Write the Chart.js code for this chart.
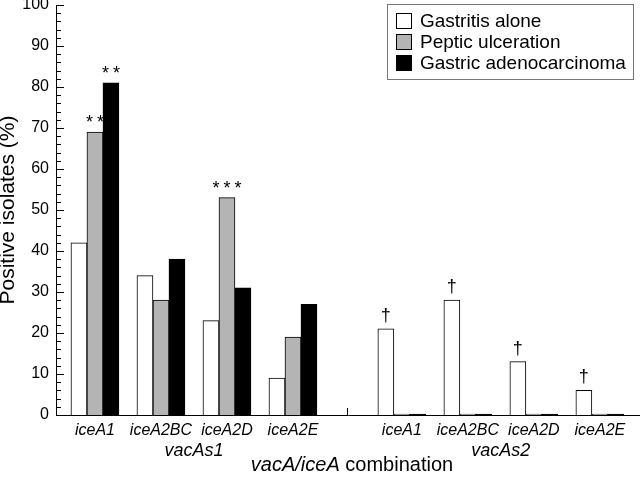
<!DOCTYPE html>
<html lang="en">
<head>
    <meta charset="UTF-8">
    <title>vacA/iceA combination</title>
    <script src="https://cdn.jsdelivr.net/npm/chart.js@4.4.0/dist/chart.umd.min.js"></script>
</head>
<style>
    body { margin: 0; background: #fff; }
    .chart { width: 640px; height: 478px; }
</style>
<body>
    <div class="chart">
        <canvas id="myChart"></canvas>
    </div>
</body>
</html>

<script>
  // data
  const groups = ['vacAs1', 'vacAs2'];
  const genotypes = ['iceA1', 'iceA2BC', 'iceA2D', 'iceA2E'];
  const seriesNames = ['Gastritis alone', 'Peptic ulceration', 'Gastric adenocarcinoma'];
  const gastritisAlone = [42, 34, 23, 9, 21, 28, 13, 6];
  const pepticUlceration = [69, 28, 53, 19, 0, 0, 0, 0];
  const gastricAdenocarcinoma = [81, 38, 31, 27, 0, 0, 0, 0];
  const gastritisMarks = ['', '', '', '', '†', '†', '†', '†'];
  const pepticMarks = ['**', '', '***', '', '', '', '', ''];
  const gastricMarks = ['**', '', '', '', '', '', '', ''];
  const yTickLabels = [0, 10, 20, 30, 40, 50, 60, 70, 80, 90, 100];

  // layout: second group is shifted a bit further than one slot
  const GROUP_SHIFT = 4.65;
  const FONT = '"Liberation Sans", Arial, Helvetica, sans-serif';

  const xPos = [];
  const xLabels = [];
  groups.forEach(function (g, gi) {
    genotypes.forEach(function (t, ti) {
      xPos.push(gi * GROUP_SHIFT + ti);
      xLabels.push(t);
    });
  });

  function points(values) {
    return values.map(function (v, i) { return { x: xPos[i], y: v }; });
  }

  const colors = ['#ffffff', '#b4b4b4', '#000000'];
  const allValues = [gastritisAlone, pepticUlceration, gastricAdenocarcinoma];
  const allMarks = [gastritisMarks, pepticMarks, gastricMarks];

  const extras = {
    id: 'extras',
    afterDatasetsDraw: function (chart) {
      const ctx = chart.ctx;
      const x = chart.scales.x, y = chart.scales.y;
      const area = chart.chartArea;
      ctx.save();
      ctx.strokeStyle = '#000';
      ctx.lineWidth = 1;

      // inside ticks on the y axis
      y.ticks.forEach(function (t) {
        const py = Math.round(y.getPixelForValue(t.value)) + 0.5;
        const len = t.value % 10 === 0 ? 8 : 5;
        ctx.beginPath();
        ctx.moveTo(area.left, py);
        ctx.lineTo(area.left + len, py);
        ctx.stroke();
      });

      // small separator between the two groups
      const sepX = Math.round(x.getPixelForValue((3 + GROUP_SHIFT) / 2)) + 0.5;
      ctx.beginPath();
      ctx.moveTo(sepX, area.bottom);
      ctx.lineTo(sepX, area.bottom - 7);
      ctx.stroke();

      // significance marks
      ctx.fillStyle = '#000';
      ctx.textAlign = 'center';
      ctx.textBaseline = 'alphabetic';
      allMarks.forEach(function (marks, d) {
        const meta = chart.getDatasetMeta(d);
        marks.forEach(function (m, i) {
          if (!m) return;
          const el = meta.data[i];
          ctx.font = '18px ' + FONT;
          if (m.indexOf('†') >= 0) {
            ctx.letterSpacing = '0px';
            ctx.fillText(m, el.x, el.y - 8);
          } else {
            ctx.letterSpacing = '4px';
            ctx.fillText(m, el.x + 2, el.y - 4);
          }
        });
      });
      ctx.letterSpacing = '0px';

      // group labels
      ctx.font = 'italic 18px ' + FONT;
      ctx.textBaseline = 'middle';
      groups.forEach(function (g, gi) {
        const a = x.getPixelForValue(gi * GROUP_SHIFT);
        const b = x.getPixelForValue(gi * GROUP_SHIFT + genotypes.length - 1);
        ctx.fillText(g, (a + b) / 2, 451);
      });

      // axis title, partly italic
      const part1 = 'vacA/iceA';
      const part2 = ' combination';
      ctx.font = 'italic 20px ' + FONT;
      const w1 = ctx.measureText(part1).width;
      ctx.font = '20px ' + FONT;
      const w2 = ctx.measureText(part2).width;
      const tx = 352 - (w1 + w2) / 2;
      ctx.textAlign = 'left';
      ctx.font = 'italic 20px ' + FONT;
      ctx.fillText(part1, tx, 465);
      ctx.font = '20px ' + FONT;
      ctx.fillText(part2, tx + w1, 465);

      // legend box
      ctx.strokeStyle = '#777';
      ctx.strokeRect(387.5, 4.5, 246, 75);
      seriesNames.forEach(function (name, i) {
        const cy = 21 + i * 21;
        ctx.fillStyle = colors[i];
        ctx.fillRect(396.5, cy - 7.5, 15, 15);
        ctx.strokeStyle = '#000';
        ctx.strokeRect(396.5, cy - 7.5, 15, 15);
        ctx.fillStyle = '#000';
        ctx.font = '19px ' + FONT;
        ctx.textBaseline = 'middle';
        ctx.fillText(name, 420, cy + 1);
      });
      ctx.restore();
    }
  };

  const ctx = document.getElementById('myChart').getContext('2d');
  const chart = new Chart(ctx, {
    type: 'bar',
    data: {
      datasets: seriesNames.map(function (name, i) {
        return {
          label: name,
          data: points(allValues[i]),
          backgroundColor: colors[i],
          borderColor: '#000',
          borderWidth: 1,
          barThickness: 16,
          minBarLength: i === 0 ? 0 : 1
        };
      })
    },
    options: {
      responsive: true,
      maintainAspectRatio: false,
      animation: false,
      layout: { padding: { top: 5, right: 0, left: 0, bottom: 0 } },
      plugins: {
        legend: { display: false },
        tooltip: { enabled: false }
      },
      scales: {
        x: {
          type: 'linear',
          offset: false,
          min: -0.59,
          max: 8.258,
          grid: { display: false, drawTicks: false },
          border: { color: '#000', width: 1 },
          afterBuildTicks: function (scale) {
            scale.ticks = xPos.map(function (v) { return { value: v }; });
          },
          afterFit: function (scale) {
            scale.height = 63;
            scale.paddingLeft = 0;
            scale.paddingRight = 0;
          },
          ticks: {
            autoSkip: false,
            maxRotation: 0,
            padding: 6,
            color: '#000',
            font: { family: FONT, size: 16, style: 'italic' },
            callback: function (value, index) { return xLabels[index]; }
          }
        },
        y: {
          min: yTickLabels[0],
          max: yTickLabels[yTickLabels.length - 1],
          grid: { display: false, drawTicks: false },
          border: { color: '#000', width: 1 },
          afterFit: function (scale) {
            scale.width = 56;
            scale.paddingTop = 0;
            scale.paddingBottom = 0;
          },
          ticks: {
            stepSize: 2,
            padding: 7,
            color: '#000',
            autoSkip: false,
            font: { family: FONT, size: 16 },
            callback: function (value) {
              return yTickLabels.indexOf(value) >= 0 ? value : '';
            }
          },
          title: {
            display: true,
            text: 'Positive isolates (%)',
            color: '#000',
            padding: 0,
            font: { family: FONT, size: 21, lineHeight: 0.8 }
          }
        }
      }
    },
    plugins: [extras]
  });
</script>
